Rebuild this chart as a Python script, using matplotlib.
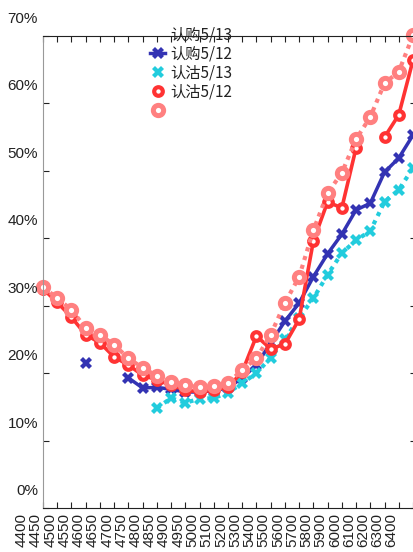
import numpy as np
import matplotlib
matplotlib.use("Agg")
import matplotlib.pyplot as plt
from matplotlib.lines import Line2D
from matplotlib.transforms import ScaledTranslation, blended_transform_factory

nan = np.nan

# strike labels along the x axis (category axis)
strikes = ["4400", "4450", "4500", "4550", "4600", "4650", "4700", "4750", "4800",
           "4850", "4900", "4950", "5000", "5100", "5200", "5300", "5400", "5500",
           "5600", "5700", "5800", "5900", "6000", "6100", "6200", "6300", "6400"]

# implied vol (%) per plotted position 1..27
call_0512 = [nan, nan, nan, 21.5, nan, nan, 19.3, 17.8, 17.9, 17.6, 17.2, 17.2, 17.4, 17.8,
             19.3, 21.2, 24.5, 27.7, 30.4, 34.3, 37.7, 40.6, 44.2, 45.2, 49.8, 51.9, 55.3]
put_0513 = [nan, nan, nan, nan, nan, nan, nan, nan, 14.8, 16.3, 15.6, 16.2, 16.3, 17.1,
            18.5, 20.0, 22.3, 25.0, 28.2, 31.1, 34.6, 37.8, 39.7, 41.1, 45.4, 47.2, 50.4]
put_0512 = [32.5, 30.5, 28.3, 25.7, 24.5, 22.4, 21.2, 19.7, 19.0, 18.2, 17.5, 17.2, 17.5, 17.9,
            20.2, 25.5, 23.6, 24.3, 28.0, 39.6, 45.4, 44.5, 53.4, nan, 55.0, 58.3, 66.4]
extra = [32.8, 31.1, 29.4, 26.7, 25.7, 24.2, 22.2, 20.8, 19.6, 18.7, 18.2, 17.9, 18.1, 18.5,
         20.5, 22.2, 25.7, 30.4, 34.3, 41.2, 46.7, 49.7, 54.7, 58.0, 63.0, 64.7, 70.1]

legend_labels = ["认购5/13", "认购5/12", "认沽5/13", "认沽5/12", ""]
yticks = [0, 10, 20, 30, 40, 50, 60, 70]

BLUE = "#3333b3"
CYAN = "#22ccdd"
RED = "#ff3333"
PINK = "#ff8080"

fig = plt.figure(figsize=(4.14, 5.52), dpi=100)
ax = fig.add_axes([43 / 414, 44 / 552, 373 / 414, 472 / 552])

pos = np.arange(1, len(extra) + 1)

ax.plot(pos, call_0512, color=BLUE, lw=2.5, marker="X", ms=8.5, mew=0, clip_on=False)
ax.plot(pos, put_0513, color=CYAN, lw=3, ls=(0, (1, 1.2)), marker="X", ms=8.5, mew=0,
        dash_capstyle="butt", clip_on=False)
ax.plot(pos, put_0512, color=RED, lw=2.6, marker="o", ms=6.2, mew=3.0, mfc="white",
        mec=RED, clip_on=False)
ax.plot(pos, extra, color=PINK, lw=3, ls=(0, (1, 1.2)), marker="o", ms=7.4, mew=3.6,
        mfc="white", mec=PINK, dash_capstyle="butt", clip_on=False)

ax.set_xlim(1, 1 + 373 / 14.23)
ax.set_ylim(0, 70)

# MATLAB-like box with inward ticks on all sides
ax.set_xticks(pos)
ax.set_yticks(yticks)
ax.tick_params(direction="in", length=4, width=0.8, top=True, right=True,
               labelbottom=False, labelleft=False, colors="#222222")
ax.spines["left"].set_color("#999999")
for s in ["top", "bottom", "right"]:
    ax.spines[s].set_color("#222222")
    ax.spines[s].set_linewidth(0.8)

# tick labels (shifted relative to the tick marks as in the source picture)
tx = blended_transform_factory(ax.transData, ax.transAxes) + \
    ScaledTranslation(-7 / 100, -5 / 100, fig.dpi_scale_trans)
for i, s in enumerate(strikes):
    ax.text(i, 0, s, transform=tx, rotation=90, ha="center", va="top",
            fontsize=11, family="Liberation Sans", color="#222222", clip_on=False)

ty = blended_transform_factory(ax.transAxes, ax.transData) + \
    ScaledTranslation(-5 / 100, 17 / 100, fig.dpi_scale_trans)
for v in yticks:
    ax.text(0, v, f"{v}%", transform=ty, ha="right", va="center",
            fontsize=11, family="Liberation Sans", color="#222222", clip_on=False)

handles = [
    Line2D([], [], color="none"),
    Line2D([], [], color=BLUE, lw=2.5, marker="X", ms=8.5, mew=0),
    Line2D([], [], color=CYAN, lw=0, marker="X", ms=8.5, mew=0),
    Line2D([], [], color=RED, lw=0, marker="o", ms=6.2, mew=3.0, mfc="white", mec=RED),
    Line2D([], [], color=PINK, lw=0, marker="o", ms=7.4, mew=3.6, mfc="white", mec=PINK),
]
leg = fig.legend(handles, legend_labels, loc="upper left",
                 bbox_to_anchor=(150 / 414, 1 - 27 / 552), frameon=False,
                 borderpad=0, borderaxespad=0, handlelength=1.0, handletextpad=0.3,
                 labelspacing=0.12, numpoints=1,
                 prop={"family": ["Noto Sans CJK SC", "DejaVu Sans"], "size": 11})
for t in leg.get_texts():
    t.set_color("#222222")

fig.savefig("out.png", dpi=100, facecolor="white")
